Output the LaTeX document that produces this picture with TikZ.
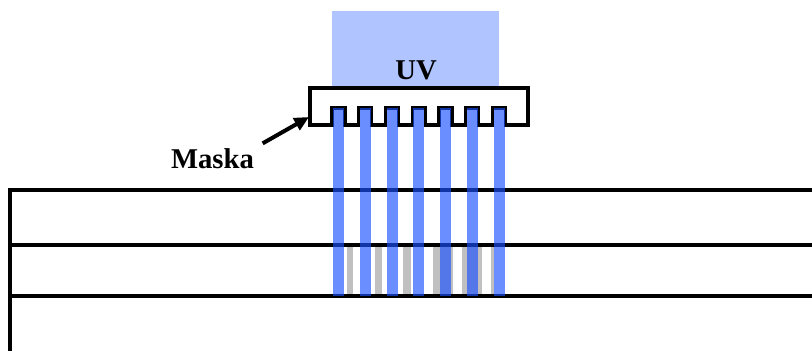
\documentclass[tikz,border=0pt]{standalone}
\usepackage{fontspec}
\setmainfont{Liberation Serif}
\usetikzlibrary{arrows.meta}

\definecolor{uvlight}{RGB}{176,196,255}
\definecolor{uvbeam}{RGB}{26,81,255}
\definecolor{etched}{RGB}{192,192,192}

\tikzset{every picture/.style={line width=2.6pt},
  layerline/.style={draw=black,line width=2.6pt},
  beam/.style={fill=uvbeam,fill opacity=0.65,draw=none},
  trench/.style={fill=etched,draw=none},
  label/.style={inner sep=0.75pt,font=\fontsize{21.5}{25}\selectfont\bfseries}}

\begin{document}
\begin{tikzpicture}[x=0.75pt,y=0.75pt,yscale=-1,xscale=1]
\useasboundingbox (0,0) rectangle (812,351);

%Shape: Rectangle [UV source]
\fill [uvlight] (332,11) -- (499,11) -- (499,88) -- (332,88) -- cycle ;

%Shape: Rectangle [etched grooves]
\fill [trench] (346.7,245) -- (353,245) -- (353,296) -- (346.7,296) -- cycle ;
\fill [trench] (375,245) -- (381.7,245) -- (381.7,296) -- (375,296) -- cycle ;
\fill [trench] (403,245) -- (410.7,245) -- (410.7,296) -- (403,296) -- cycle ;
\fill [trench] (432.7,245) -- (453,245) -- (453,296) -- (432.7,296) -- cycle ;
\fill [trench] (461.7,245) -- (482,245) -- (482,296) -- (461.7,296) -- cycle ;
\fill [trench] (490.7,245) -- (494,245) -- (494,296) -- (490.7,296) -- cycle ;

%Straight Lines [layers]
\draw [layerline] (812,190) -- (10,190) -- (10,351) ;
\draw [layerline] (10,245) -- (812,245) ;
\draw [layerline] (10,296) -- (812,296) ;

%Shape: Polygon [mask]
\draw [fill=white] (310,88) -- (528,88) -- (528,125) -- (505.5,125) -- (505.5,108) -- (492.5,108) -- (492.5,125)
  -- (478.75,125) -- (478.75,108) -- (465.75,108) -- (465.75,125) -- (452,125) -- (452,108) -- (439,108) -- (439,125)
  -- (425.25,125) -- (425.25,108) -- (412.25,108) -- (412.25,125) -- (398.5,125) -- (398.5,108) -- (385.5,108) -- (385.5,125)
  -- (371.75,125) -- (371.75,108) -- (358.75,108) -- (358.75,125) -- (345,125) -- (345,108) -- (332,108) -- (332,125)
  -- (310,125) -- cycle ;

%Shape: Rectangle [beams]
\fill [beam] (333,108) -- (344,108) -- (344,296) -- (333,296) -- cycle ;
\fill [beam] (359.75,108) -- (370.75,108) -- (370.75,296) -- (359.75,296) -- cycle ;
\fill [beam] (386.5,108) -- (397.5,108) -- (397.5,296) -- (386.5,296) -- cycle ;
\fill [beam] (413.25,108) -- (424.25,108) -- (424.25,296) -- (413.25,296) -- cycle ;
\fill [beam] (440,108) -- (451,108) -- (451,296) -- (440,296) -- cycle ;
\fill [beam] (466.75,108) -- (477.75,108) -- (477.75,296) -- (466.75,296) -- cycle ;
\fill [beam] (493.5,108) -- (504.5,108) -- (504.5,296) -- (493.5,296) -- cycle ;

% Text Node
\draw (416,79) node [anchor=base][label] (uv) {UV};
% Text Node
\draw (212.5,168) node [anchor=base][label] (maska) {Maska};
\coordinate (maskedge) at (309,117);

%Straight Lines [pointer]
\draw [line width=3pt,-{Triangle[length=11pt,width=10pt]}] (maska.north east) ++(6,-2) coordinate (tail) (tail) -- (maskedge) ;

\end{tikzpicture}
\end{document}
